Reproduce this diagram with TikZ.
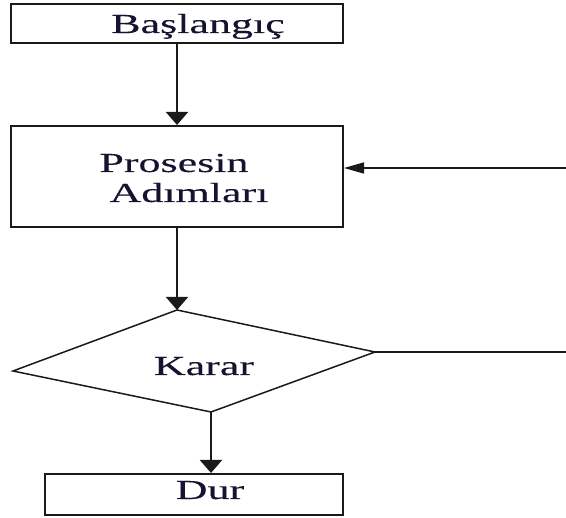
\documentclass[tikz,border=0pt]{standalone}
\usepackage{fontspec}
\setmainfont{Liberation Serif}[FakeStretch=1.6,FakeBold=0.2]
\usetikzlibrary{arrows.meta}
\definecolor{inkline}{HTML}{1A1A1A}
\definecolor{inktext}{HTML}{141430}
\begin{document}
\begin{tikzpicture}[x=1pt,y=-1pt,
  stepbox/.style={draw=inkline,line width=2pt,minimum width=#1,inner sep=0pt},
  label text/.style={text=inktext,anchor=base,inner sep=0pt,
    font=\fontsize{27.5}{31}\selectfont},
  flow/.style={draw=inkline,line width=2pt,-{Triangle[length=13pt,width=22pt]}},
  back/.style={draw=inkline,line width=1.5pt,-{Triangle[length=20pt,width=11pt]}},
  edge line/.style={draw=inkline,line width=1.5pt}]
  % page frame
  \useasboundingbox (0,0) rectangle (566,518);

  % process boxes
  \node[stepbox=332pt,minimum height=39pt] (start) at (177,23.5) {};
  \node[label text] (startlbl) at (198,33) {Başlangıç};

  \node[stepbox=332pt,minimum height=101pt] (proc) at (177,176.5) {};
  \node[label text] (proclbla) at (174,172) {Prosesin};
  \node[label text] (proclblb) at (189,202) {Adımları};

  \node[stepbox=298pt,minimum height=41pt] (stop) at (194,494.5) {};
  \node[label text] (stoplbl) at (210,499) {Dur};

  % decision shape
  \coordinate (dtop) at (177,310);
  \coordinate (dright) at (375,352);
  \coordinate (dbottom) at (211,412);
  \coordinate (dleft) at (13,371);
  \draw[edge line,line join=miter] (dtop) -- (dright) -- (dbottom) -- (dleft) -- cycle;
  \node[label text] (decisionlbl) at (204,375) {Karar};

  % loop-back ends at the right margin
  \coordinate (loopin) at (566,168);
  \coordinate (loopout) at (566,352);

  % connectors
  \draw[flow] (start.south) -- (proc.north);
  \draw[flow] (proc.south) -- (dtop);
  \draw[flow] (dbottom) -- (dbottom |- stop.north);
  \draw[edge line] (dright) -- (loopout);
  \draw[back] (loopin) -- (loopin -| proc.east);
\end{tikzpicture}
\end{document}
